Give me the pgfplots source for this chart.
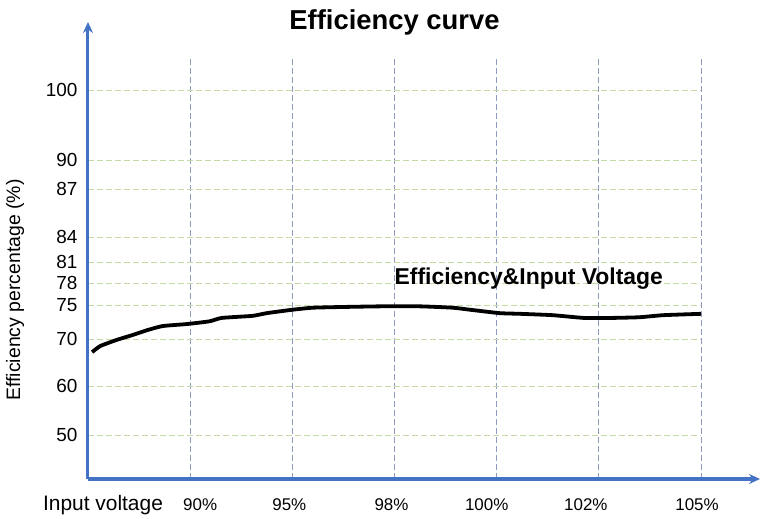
\documentclass[border=0pt]{standalone}
\usepackage{pgfplots}
\pgfplotsset{compat=1.18}
\usetikzlibrary{arrows.meta}
\usepackage{fontspec}
\setmainfont{Liberation Sans}
\definecolor{axblue}{HTML}{4472C4}
\definecolor{hgrid}{HTML}{C5DBA5}
\definecolor{vgrid}{HTML}{8E9BBE}
\begin{document}
\begin{tikzpicture}
\begin{axis}[
  scale only axis, width=613bp, height=422bp,
  xmin=0, xmax=6,
  ymin=41.02, ymax=104.71,
  y coord trafo/.code={\pgfmathparse{ifthenelse(#1<60, 44+(#1-50)*4.9, ifthenelse(#1<70, 93+(#1-60)*4.7, ifthenelse(#1<75, 140+(#1-70)*6.8, ifthenelse(#1<78, 174+(#1-75)*7.3333, ifthenelse(#1<81, 196+(#1-78)*7, ifthenelse(#1<84, 217+(#1-81)*8.3333, ifthenelse(#1<87, 242+(#1-84)*16, ifthenelse(#1<90, 290+(#1-87)*9.6667, 319+(#1-90)*7))))))))}},
  axis lines=left,
  axis line style={axblue, line width=3bp},
  x axis line style={axblue, line width=3bp, -{Stealth[length=11bp,width=10bp]}, shorten >=-59bp},
  y axis line style={axblue, line width=3bp, -{Stealth[length=11bp,width=10bp]}, shorten >=-35bp},
  xtick={1,2,3,4,5,6},
  xticklabels={\hspace*{20bp}90\%,95\%\hspace*{6bp},98\%\hspace*{6bp},100\%\hspace*{20bp},102\%\hspace*{26bp},105\%\hspace*{8bp}},
  ytick={50,60,70,75,78,81,84,87,90,100},
  yticklabels={50,60,70,75,78,81,84,87,90,100},
  major tick length=0pt,
  /pgf/number format/assume math mode=true,
  xticklabel style={font=\fontsize{17}{17}\selectfont, yshift=-16bp},
  yticklabel style={font=\fontsize{19}{19}\selectfont, xshift=-7bp},
  xmajorgrids, ymajorgrids,
  x grid style={vgrid, line width=0.8bp, dash pattern=on 6bp off 3bp},
  y grid style={hgrid, line width=0.9bp, dash pattern=on 6bp off 3bp},
  clip=false,
]
\addplot[black, line width=3.8bp, smooth, tension=0.3] coordinates {
  (0.04,67.2) (0.12,68.5) (0.28,69.8) (0.44,70.6) (0.58,71.3) (0.73,71.9)
  (0.97,72.2) (1.19,72.6) (1.31,73.1) (1.61,73.4) (1.75,73.8) (2.0,74.3)
  (2.20,74.6) (2.47,74.7) (2.86,74.8) (3.25,74.8) (3.57,74.6) (3.74,74.3)
  (4.03,73.8) (4.23,73.7) (4.55,73.5) (4.85,73.1) (5.14,73.1) (5.40,73.2)
  (5.63,73.5) (6.0,73.7)
};
\coordinate (O) at (rel axis cs:0,0);
\node[font=\bfseries\fontsize{27.5}{27.5}\selectfont] at ([yshift=35bp]rel axis cs:0.5,1) {Efficiency curve};
\node[anchor=west, font=\bfseries\fontsize{23}{23}\selectfont, inner sep=0pt] at (rel axis cs:0.5,0.476) {Efficiency\&Input Voltage};
\node[font=\fontsize{21}{21}\selectfont] at ([yshift=-26bp]rel axis cs:0.0245,0) {Input voltage};
\node[rotate=90, font=\fontsize{19.5}{19.5}\selectfont] at ([xshift=-73bp]rel axis cs:0,0.448) {Efficiency percentage (\%)};
\end{axis}
\path ([xshift=-88bp,yshift=-38bp]O) rectangle ([xshift=673bp,yshift=479bp]O);
\end{tikzpicture}
\end{document}
